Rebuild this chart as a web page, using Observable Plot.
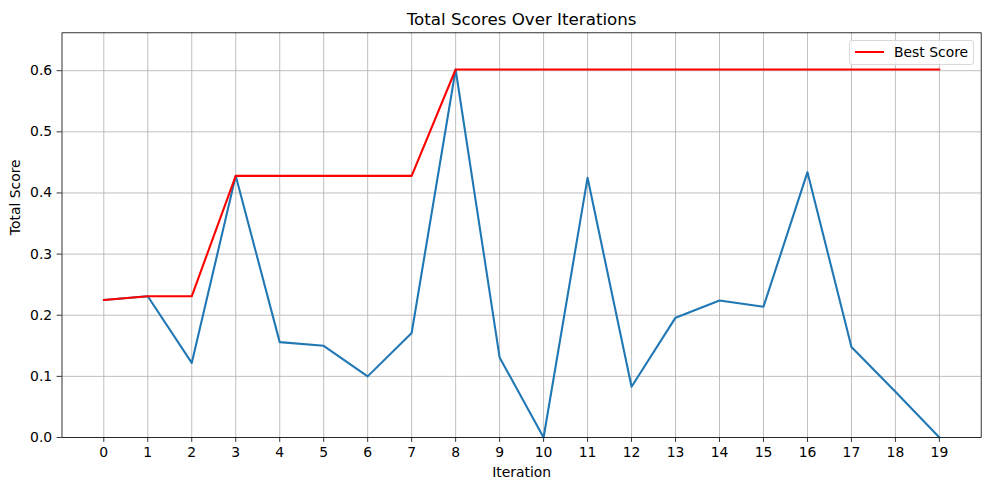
<!DOCTYPE html>
<html><head><meta charset="utf-8">
<script src="https://cdn.jsdelivr.net/npm/d3@7"></script>
<script src="https://cdn.jsdelivr.net/npm/@observablehq/plot@0.6"></script>
<style>
body{margin:0;background:#fff;font-family:"DejaVu Sans",sans-serif;}
#wrap{position:relative;width:989px;height:490px;}
#legend{position:absolute;left:849px;top:40px;width:123px;height:23px;border:1px solid #d9d9d9;border-radius:3px;background:rgba(255,255,255,0.8);font-size:13.9px;color:#000;}
#legend .sw{position:absolute;left:5px;top:9.7px;width:29px;height:2px;background:#ff0000;}
#legend .lb{position:absolute;left:44px;top:3px;line-height:16px;white-space:nowrap;}
</style></head><body><div id="wrap"></div>
<script>
const iterations = [0,1,2,3,4,5,6,7,8,9,10,11,12,13,14,15,16,17,18,19];
const totalScores = [0.225,0.231,0.122,0.428,0.156,0.150,0.100,0.171,0.602,0.131,0.0,0.425,0.083,0.196,0.224,0.214,0.434,0.148,0.075,0.0];
const bestScores = [0.225,0.231,0.231,0.428,0.428,0.428,0.428,0.428,0.602,0.602,0.602,0.602,0.602,0.602,0.602,0.602,0.602,0.602,0.602,0.602];
const xTicks = [0,1,2,3,4,5,6,7,8,9,10,11,12,13,14,15,16,17,18,19];
const yTicks = [0,0.1,0.2,0.3,0.4,0.5,0.6];
const titleText = "Total Scores Over Iterations";
const xLabel = "Iteration";
const yLabel = "Total Score";
const legendLabel = "Best Score";

const totalData = iterations.map((it, i) => ({it, v: totalScores[i]}));
const bestData = iterations.map((it, i) => ({it, v: bestScores[i]}));

const chart = Plot.plot({
  width: 989,
  height: 490,
  marginLeft: 61.5,
  marginRight: 8.3,
  marginTop: 32.3,
  marginBottom: 53,
  style: {fontFamily: "DejaVu Sans, sans-serif", fontSize: "13.9px", background: "#fff", color: "#000"},
  x: {domain: [-0.95, 19.95], ticks: xTicks, tickFormat: d => String(d), tickSize: 4.9, tickPadding: 4.9, label: null},
  y: {domain: [0, 0.662], ticks: yTicks, tickFormat: d => d.toFixed(1), tickSize: 4.9, tickPadding: 4.9, label: null},
  marks: [
    Plot.gridX(xTicks, {stroke: "#b0b0b0", strokeOpacity: 1, strokeWidth: 0.8}),
    Plot.gridY(yTicks, {stroke: "#b0b0b0", strokeOpacity: 1, strokeWidth: 0.8}),
    Plot.axisX(xTicks, {tickSize: 4.9, tickPadding: 4.9, strokeWidth: 0.8, fontSize: 13.9, tickFormat: d => String(d), label: null}),
    Plot.axisY(yTicks, {tickSize: 4.9, tickPadding: 4.9, strokeWidth: 0.8, fontSize: 13.9, tickFormat: d => d.toFixed(1), label: null}),
    Plot.line(totalData, {x: "it", y: "v", stroke: "#1f77b4", strokeWidth: 2.08}),
    Plot.line(bestData, {x: "it", y: "v", stroke: "#ff0000", strokeWidth: 2.08}),
    Plot.frame({stroke: "#000", strokeWidth: 0.8}),
    Plot.text([titleText], {frameAnchor: "top", dy: -8.3, lineAnchor: "bottom", fontSize: 16.7, fill: "#000"}),
    Plot.text([xLabel], {frameAnchor: "bottom", dy: 35, lineAnchor: "middle", fontSize: 13.9, fill: "#000"}),
    Plot.text([yLabel], {frameAnchor: "left", dx: -46, rotate: -90, lineAnchor: "middle", fontSize: 13.9, fill: "#000"})
  ]
});
const wrap = document.getElementById("wrap");
wrap.appendChild(chart);
const leg = document.createElement("div");
leg.id = "legend";
leg.innerHTML = '<div class="sw"></div><div class="lb"></div>';
leg.querySelector(".lb").textContent = legendLabel;
wrap.appendChild(leg);
</script>
</body></html>
